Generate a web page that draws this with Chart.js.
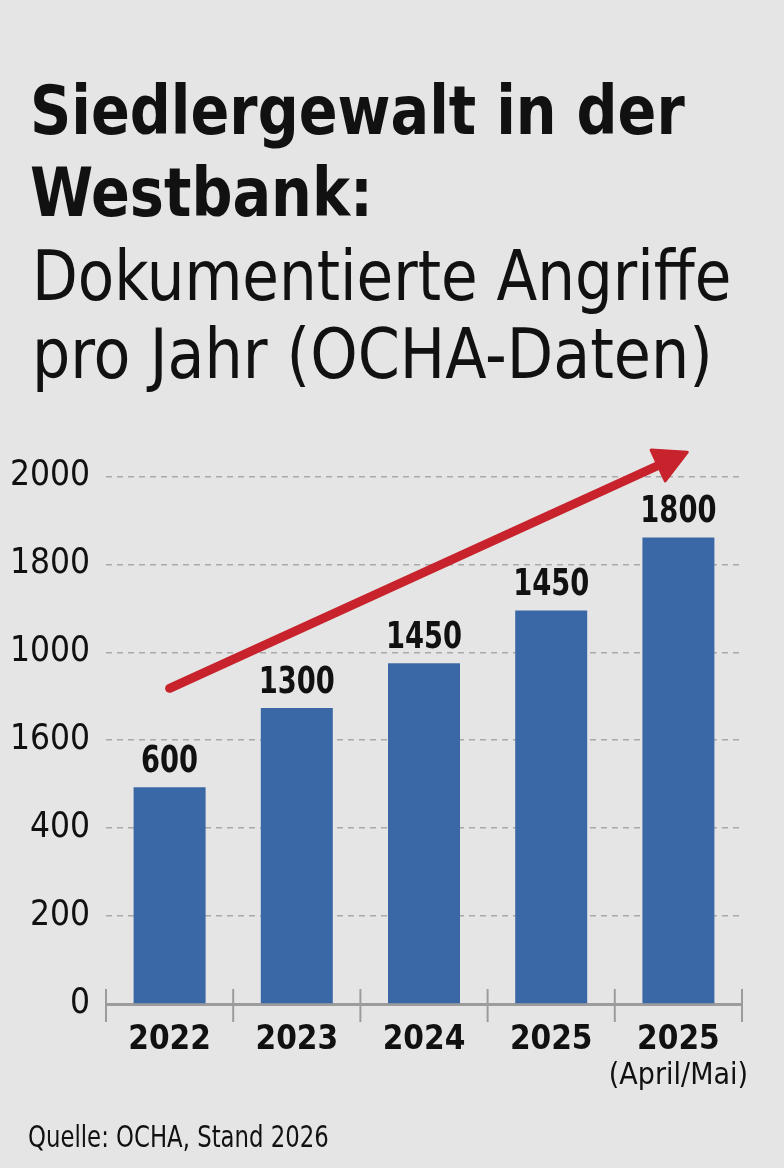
<!DOCTYPE html>
<html lang="de">
<head>
<meta charset="utf-8">
<script src="https://cdn.jsdelivr.net/npm/chart.js@4.4.1/dist/chart.umd.min.js"></script>
<style>
  html, body { margin: 0; padding: 0; }
  body {
    width: 784px; height: 1168px; position: relative; overflow: hidden;
    background: #e5e5e5;
    font-family: 'Liberation Sans Narrow', 'DejaVu Sans Condensed', sans-serif;
    color: #111;
  }
  .line { position: absolute; left: 30px; white-space: nowrap; line-height: 1; transform-origin: 0 0; }
  .t { font-weight: bold; font-size: 68px; transform: scaleX(0.937); }
  .s { font-weight: normal; font-size: 70px; transform: scaleX(0.945); }
  #l1 { top: 77px; }
  #l2 { top: 159px; }
  #l3 { top: 241px; left: 32px; }
  #l4 { top: 319px; left: 32px; transform: scaleX(0.958); }
  #source { position: absolute; left: 28px; top: 1122px; font-size: 30px; line-height: 1; white-space: nowrap; transform: scaleX(0.845); transform-origin: 0 0; }
  #wrap { position: absolute; left: 0; top: 413px; width: 784px; height: 707px; }
</style>
</head>
<body>
<div class="line t" id="l1">Siedlergewalt in der</div>
<div class="line t" id="l2">Westbank:</div>
<div class="line s" id="l3">Dokumentierte Angriffe</div>
<div class="line s" id="l4">pro Jahr (OCHA-Daten)</div>

<div id="wrap"><canvas id="attackChart"></canvas></div>

<div id="source">Quelle: OCHA, Stand 2026</div>

<script>
// Kategorien und Werte
const years = ['2022', '2023', '2024', '2025', '2025'];
const subLabels = ['', '', '', '', '(April/Mai)'];
// Balkenhöhen auf der Achse (gleichmäßige 200er-Schritte)
const barHeights = [493, 673, 775, 895, 1061];
// Beschriftungen über den Balken, so wie sie gedruckt sind
const valueLabels = ['600', '1300', '1450', '1450', '1800'];
// Achsenbeschriftungen, so wie sie gedruckt sind (von 0 aufwärts)
const yTickLabels = ['0', '200', '400', '1600', '1000', '1800', '2000'];
// Trendpfeil: [Kategorie-Index, Achsenwert]
const arrowFrom = [0, 718];
const arrowTo = [4.07, 1255];

const FONT = "'Liberation Sans Narrow', 'DejaVu Sans Condensed', sans-serif";

const decorations = {
    id: 'decorations',
    afterDraw(chart) {
        const ctx = chart.ctx;
        const x = chart.scales.x;
        const y = chart.scales.y;
        const y0 = y.getPixelForValue(0);

        // Teilstriche zwischen den Kategorien
        ctx.save();
        ctx.strokeStyle = '#9c9c9c';
        ctx.lineWidth = 2;
        for (let i = 0; i <= years.length; i++) {
            const px = x.getPixelForValue(i - 0.5);
            ctx.beginPath();
            ctx.moveTo(px, y0 - 15);
            ctx.lineTo(px, y0 + 18);
            ctx.stroke();
        }
        ctx.restore();

        // Werte über den Balken (schmal gesetzt)
        const meta = chart.getDatasetMeta(0);
        ctx.save();
        ctx.fillStyle = '#111';
        ctx.font = 'bold 38px ' + FONT;
        ctx.textAlign = 'center';
        ctx.textBaseline = 'alphabetic';
        meta.data.forEach((bar, i) => {
            ctx.save();
            ctx.translate(bar.x, bar.y - 15);
            ctx.scale(0.8, 1);
            ctx.fillText(valueLabels[i], 0, 0);
            ctx.restore();
        });

        // Zusatzzeile unter der Jahreszahl
        ctx.font = '30px ' + FONT;
        ctx.textBaseline = 'middle';
        subLabels.forEach((t, i) => {
            if (t) ctx.fillText(t, x.getPixelForValue(i), y0 + 72);
        });
        ctx.restore();

        // roter Pfeil
        const sx = x.getPixelForValue(arrowFrom[0]);
        const sy = y.getPixelForValue(arrowFrom[1]);
        const ex = x.getPixelForValue(arrowTo[0]);
        const ey = y.getPixelForValue(arrowTo[1]);
        const ang = Math.atan2(ey - sy, ex - sx);
        const headLen = 32, headHalf = 17;
        const bx = ex - Math.cos(ang) * headLen;
        const by = ey - Math.sin(ang) * headLen;
        ctx.save();
        ctx.strokeStyle = '#c8232c';
        ctx.fillStyle = '#c8232c';
        ctx.lineWidth = 9;
        ctx.lineCap = 'round';
        ctx.beginPath();
        ctx.moveTo(sx, sy);
        ctx.lineTo(bx, by);
        ctx.stroke();
        ctx.lineJoin = 'round';
        ctx.lineWidth = 3;
        ctx.beginPath();
        ctx.moveTo(ex, ey);
        ctx.lineTo(bx - Math.sin(ang) * headHalf, by + Math.cos(ang) * headHalf);
        ctx.lineTo(bx + Math.sin(ang) * headHalf, by - Math.cos(ang) * headHalf);
        ctx.closePath();
        ctx.fill();
        ctx.stroke();
        ctx.restore();
    }
};

new Chart(document.getElementById('attackChart'), {
    type: 'bar',
    data: {
        labels: years,
        datasets: [{
            data: barHeights,
            backgroundColor: '#3a68a6',
            borderWidth: 0,
            barPercentage: 0.566,
            categoryPercentage: 1.0
        }]
    },
    options: {
        responsive: true,
        maintainAspectRatio: false,
        animation: false,
        layout: {
            padding: { top: 0, right: 42, left: 0, bottom: 0 }
        },
        plugins: {
            legend: { display: false },
            tooltip: { enabled: false }
        },
        scales: {
            x: {
                afterFit: function(scale) { scale.height = 116; },
                grid: { display: false },
                border: { display: true, color: '#9c9c9c', width: 3 },
                ticks: {
                    color: '#111',
                    padding: 9,
                    font: { family: FONT, size: 33, weight: 'bold' }
                }
            },
            y: {
                min: 0,
                max: 1260,
                afterFit: function(scale) { scale.width = 106; },
                border: { display: false, dash: [6, 5] },
                grid: {
                    drawTicks: false,
                    lineWidth: 1.5,
                    color: function(c) { return c.tick && c.tick.value === 0 ? 'rgba(0,0,0,0)' : '#a9a9a9'; }
                },
                ticks: {
                    stepSize: 200,
                    includeBounds: false,
                    padding: 16,
                    color: '#111',
                    font: { family: FONT, size: 35 },
                    callback: function(value) { return yTickLabels[Math.round(value / 200)]; }
                }
            }
        }
    },
    plugins: [decorations]
});
</script>
</body>
</html>
